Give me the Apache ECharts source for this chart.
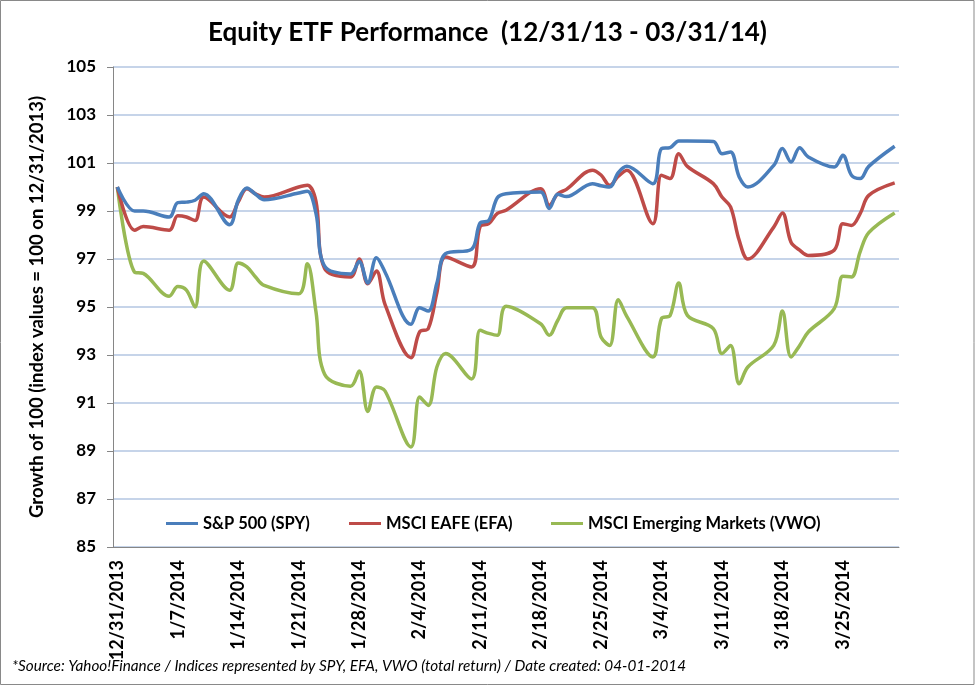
<!DOCTYPE html>
<html>
<head>
<meta charset="utf-8">
<script src="https://cdn.jsdelivr.net/npm/echarts@6/dist/echarts.min.js"></script>
<style>
html,body{margin:0;padding:0;background:#fff;}
#chart{width:975px;height:687px;}
</style>
</head>
<body>
<div id="chart"></div>
<script>
// Trading dates with values (index values, 100 on 12/31/2013)
const tradingDates = [
  '12/31/2013','1/2/2014','1/3/2014','1/6/2014','1/7/2014','1/8/2014','1/9/2014','1/10/2014',
  '1/13/2014','1/14/2014','1/15/2014','1/16/2014','1/17/2014','1/21/2014','1/22/2014','1/23/2014',
  '1/24/2014','1/27/2014','1/28/2014','1/29/2014','1/30/2014','1/31/2014','2/3/2014','2/4/2014',
  '2/5/2014','2/6/2014','2/7/2014','2/10/2014','2/11/2014','2/12/2014','2/13/2014','2/14/2014',
  '2/18/2014','2/19/2014','2/20/2014','2/21/2014','2/24/2014','2/25/2014','2/26/2014','2/27/2014',
  '2/28/2014','3/3/2014','3/4/2014','3/5/2014','3/6/2014','3/7/2014','3/10/2014','3/11/2014',
  '3/12/2014','3/13/2014','3/14/2014','3/17/2014','3/18/2014','3/19/2014','3/20/2014','3/21/2014',
  '3/24/2014','3/25/2014','3/26/2014','3/27/2014','3/28/2014','3/31/2014'
];
const spyValues = [
  100, 99.0, 99.0, 98.75, 99.35, 99.37, 99.45, 99.72,
  98.43, 99.45, 99.96, 99.7, 99.47, 99.75, 99.82, 98.9,
  96.7, 96.38, 96.9, 96.0, 97.05, 96.45, 94.28, 94.97,
  94.83, 96.0, 97.22, 97.4, 98.5, 98.6, 99.55, 99.72,
  99.79, 99.1, 99.7, 99.6, 100.14, 100.05, 100.0, 100.6,
  100.86, 100.14, 101.6, 101.64, 101.92, 101.92, 101.9, 101.39,
  101.46, 100.42, 100.0, 100.9, 101.6, 101.04, 101.64, 101.25,
  100.83, 101.32, 100.49, 100.35, 100.86, 101.7
];
const efaValues = [
  100, 98.2, 98.35, 98.2, 98.8, 98.75, 98.6, 99.58,
  98.75, 99.38, 99.93, 99.72, 99.58, 100.0, 100.07, 99.4,
  96.6, 96.25, 97.0, 95.97, 96.5, 95.1, 92.89, 93.96,
  94.1, 95.6, 97.08, 96.67, 98.35, 98.47, 98.9, 99.03,
  99.93, 99.24, 99.72, 99.9, 100.7, 100.5, 100.07, 100.45,
  100.7, 98.47, 100.49, 100.35, 101.39, 100.86, 100.14, 99.58,
  99.17, 97.78, 97.0, 98.33, 98.92, 97.7, 97.37, 97.15,
  97.37, 98.47, 98.4, 98.89, 99.65, 100.17
];
const vwoValues = [
  100, 96.45, 96.4, 95.45, 95.85, 95.7, 95.0, 96.92,
  95.7, 96.83, 96.67, 96.25, 95.9, 95.55, 96.8, 94.8,
  92.2, 91.7, 92.33, 90.65, 91.67, 91.5, 89.17, 91.25,
  90.9, 92.5, 93.06, 92.0, 94.03, 93.9, 93.82, 95.03,
  94.3, 93.82, 94.45, 94.97, 94.97, 93.75, 93.4, 95.3,
  94.6, 92.92, 94.52, 94.65, 96.0, 94.65, 94.1, 93.06,
  93.4, 91.8, 92.5, 93.4, 94.83, 92.92, 93.4, 93.96,
  94.93, 96.28, 96.25, 97.3, 98.1, 98.92
];
const seriesNames = ['S&P 500 (SPY)', 'MSCI EAFE (EFA)', 'MSCI Emerging Markets (VWO)'];
const seriesColors = ['#4A7EBB', '#BE4B48', '#98B954'];
const titleText = 'Equity ETF Performance  (12/31/13 - 03/31/14)';
const yAxisTitle = 'Growth of 100 (index values = 100 on 12/31/2013)';
const footnote = '*Source: Yahoo!Finance / Indices represented by SPY, EFA, VWO (total return) / Date created: 04-01-2014';

// Calendar-day categories from 12/31/2013 to 3/31/2014 (date axis)
const calendarDays = [];
(function () {
  const d = new Date(2013, 11, 31);
  const end = new Date(2014, 2, 31);
  while (d <= end) {
    calendarDays.push((d.getMonth() + 1) + '/' + d.getDate() + '/' + d.getFullYear());
    d.setDate(d.getDate() + 1);
  }
})();

function pairs(values) {
  return tradingDates.map((t, i) => [t, values[i]]);
}

const FONT = 'Lato';
const legendLefts = [161, 344, 546];
const legendText = {fontFamily: FONT, fontWeight: 'bold', fontSize: 16.5, color: '#000'};

const chart = echarts.init(document.getElementById('chart'), null, {renderer: 'canvas'});
chart.setOption({
  animation: false,
  backgroundColor: '#ffffff',
  title: {
    text: titleText,
    left: 'center',
    top: 15,
    textStyle: {fontFamily: FONT, fontWeight: 'bold', fontSize: 26, color: '#000'}
  },
  legend: seriesNames.map((name, i) => ({
    left: legendLefts[i],
    top: 510,
    itemWidth: 32,
    itemHeight: 3,
    icon: 'rect',
    data: [name],
    textStyle: legendText
  })),
  grid: {left: 113, right: 76, top: 67, bottom: 140, containLabel: false},
  xAxis: {
    type: 'category',
    data: calendarDays,
    boundaryGap: true,
    axisLine: {lineStyle: {color: '#868686', width: 1}},
    axisTick: {interval: 6, length: 6, lineStyle: {color: '#868686'}},
    axisLabel: {interval: 6, rotate: 90, margin: 13, fontFamily: FONT, fontWeight: 'bold', fontSize: 18, color: '#000'},
    splitLine: {show: false}
  },
  yAxis: {
    type: 'value',
    min: 85,
    max: 105,
    interval: 2,
    name: yAxisTitle,
    nameLocation: 'middle',
    nameRotate: 90,
    nameGap: 66,
    nameTextStyle: {fontFamily: FONT, fontWeight: 'bold', fontSize: 18.5, color: '#000'},
    axisLine: {show: true, lineStyle: {color: '#868686', width: 1}},
    axisTick: {show: true, length: 6, lineStyle: {color: '#868686'}},
    axisLabel: {margin: 17, fontFamily: FONT, fontWeight: 'bold', fontSize: 17, color: '#000'},
    splitLine: {show: true, lineStyle: {color: '#B3C6E2', width: 1.5}}
  },
  graphic: [
    {type: 'rect', shape: {x: 0.5, y: 0.5, width: 973.5, height: 684}, style: {fill: 'none', stroke: '#898989', lineWidth: 1}, silent: true},
    {type: 'text', left: 12, top: 659, style: {text: footnote, fontFamily: FONT, fontStyle: 'italic', fontSize: 15.3, fill: '#000'}}
  ],
  series: seriesNames.map((name, i) => ({
    name: name,
    type: 'line',
    data: pairs([spyValues, efaValues, vwoValues][i]),
    smooth: 0.35,
    showSymbol: false,
    symbol: 'none',
    lineStyle: {color: seriesColors[i], width: 3.5},
    itemStyle: {color: seriesColors[i]},
    z: 3 - i
  }))
});
</script>
</body>
</html>
